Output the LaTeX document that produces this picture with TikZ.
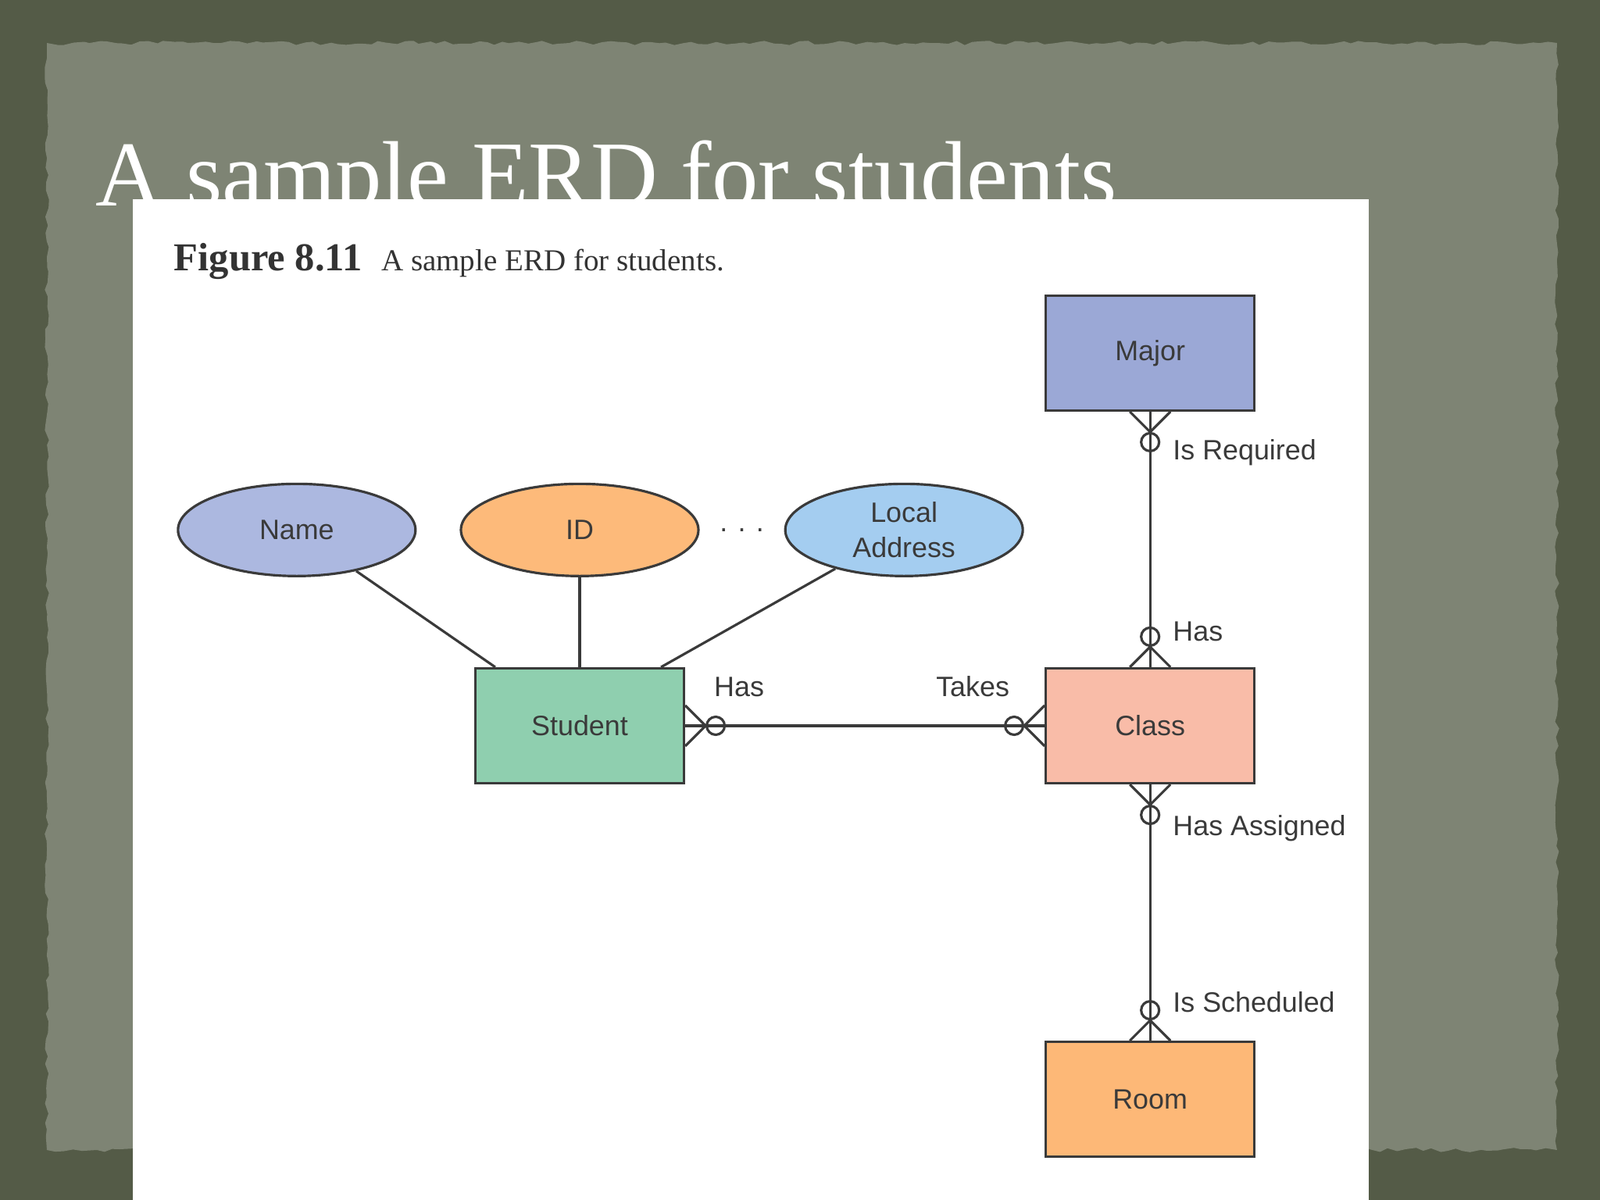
\documentclass[tikz,border=0pt]{standalone}
\usepackage{fontspec}
\setmainfont{Liberation Serif}
\setsansfont{Liberation Sans}
\usetikzlibrary{shapes.geometric, positioning, calc, decorations.markings, decorations.pathmorphing}

\definecolor{frameolive}{RGB}{84,91,71}
\definecolor{paper}{RGB}{126,132,116}
\definecolor{ink}{RGB}{58,58,58}
\definecolor{majorblue}{RGB}{155,168,214}
\definecolor{namelilac}{RGB}{172,184,224}
\definecolor{idorange}{RGB}{253,186,122}
\definecolor{addrblue}{RGB}{164,205,240}
\definecolor{studentgreen}{RGB}{143,207,175}
\definecolor{classpink}{RGB}{249,188,168}
\definecolor{roomorange}{RGB}{253,184,119}

\begin{document}
\begin{tikzpicture}[
        entity/.style={rectangle, draw=ink, line width=0.9pt, minimum width=2.67cm, minimum height=1.47cm, text=ink, font=\sffamily\fontsize{10.2}{13}\selectfont},
        attr/.style={ellipse, draw=ink, line width=0.9pt, minimum width=3.04cm, minimum height=1.18cm, inner sep=0pt, align=center, text=ink, font=\sffamily\fontsize{10.2}{13}\selectfont},
        lbl/.style={text=ink, font=\sffamily\fontsize{10.2}{13}\selectfont},
        line/.style={draw=ink, line width=0.9pt},
        zeromany/.style={line, postaction={decorate, decoration={markings,
            mark=at position 0 with {\draw[line] (0,0.26) -- (0.26,0) -- (0,-0.26) (0.39,0) circle (0.115);},
            mark=at position 1 with {\draw[line] (0,0.26) -- (-0.26,0) -- (0,-0.26) (-0.39,0) circle (0.115);}}}}
    ]
        \useasboundingbox (0,0) rectangle (20.48,-15.36);

        % Slide background
        \fill[frameolive] (0,0) rectangle (20.48,-15.36);
        \fill[paper, decorate, decoration={random steps, segment length=3pt, amplitude=0.8pt}] (0.6,-0.55) rectangle (19.93,-14.72);
        \node[anchor=base west, inner sep=0pt, text=white, font=\fontsize{33.8}{40}\selectfont] (title) at (1.22,-2.64) {A sample ERD for students};

        % Figure panel
        \fill[white] (1.70,-2.55) rectangle (17.52,-15.36);
        \node[anchor=base west, inner sep=0pt, text=black!80] (caption) at (2.22,-3.47) {\fontsize{14.4}{16}\selectfont\bfseries Figure 8.11\hspace{7pt}\fontsize{11.1}{13}\selectfont\mdseries A sample ERD for students.};

        % Entities
        \node[entity, fill=studentgreen] (student) at (7.42,-9.29) {Student};
        \node[entity, fill=classpink, right=4.6cm of student] (class) {Class};
        \node[entity, fill=majorblue, above=3.27cm of class] (major) {Major};
        \node[entity, fill=roomorange, below=3.28cm of class] (room) {Room};

        % Attributes of Student
        \node[attr, fill=idorange, above=1.15cm of student] (id) {ID};
        \node[attr, fill=namelilac, left=0.55cm of id] (name) {Name};
        \node[attr, fill=addrblue, right=1.08cm of id] (addr) {Local\\Address};
        \node[lbl] (dots) at ($(id.east)!0.5!(addr.west)$) {. . .};

        \draw[line] (name) -- ($(student.north west)+(0.27,0)$);
        \draw[line] (id) -- (student);
        \draw[line] (addr) -- ($(student.north east)+(-0.31,0)$);

        % Relationships
        \draw[zeromany] (student) -- node[lbl, pos=0.15, above=0.24cm] {Has} node[lbl, pos=0.8, above=0.24cm] {Takes} (class);
        \draw[zeromany] (major) -- node[lbl, pos=0.16, right=0.16cm] {Is Required} node[lbl, pos=0.86, right=0.16cm] {Has} (class);
        \draw[zeromany] (class) -- node[lbl, pos=0.17, right=0.16cm] {Has Assigned} node[lbl, pos=0.85, right=0.16cm] {Is Scheduled} (room);
    \end{tikzpicture}
\end{document}
